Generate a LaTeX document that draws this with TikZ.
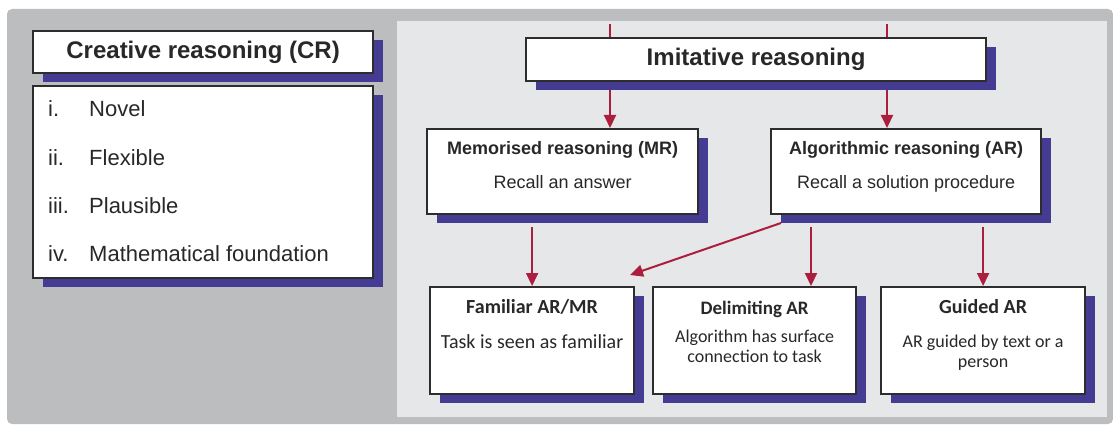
\documentclass[tikz,border=0pt]{standalone}
\usepackage{fontspec}
\setmainfont{Liberation Sans}
\newfontfamily\calfont{Carlito}
\usepackage{tikz}
\usetikzlibrary{arrows.meta, shadows, calc}
\definecolor{outergray}{RGB}{188, 189, 191}
\definecolor{panelgray}{RGB}{230, 231, 233}
\definecolor{shadowblue}{RGB}{67, 60, 146}
\definecolor{linkred}{RGB}{172, 30, 62}
\definecolor{boxline}{RGB}{45, 45, 45}
\definecolor{textgray}{RGB}{40, 40, 40}
\newcommand\bighead{\fontsize{24}{28}\selectfont\bfseries}
\newcommand\listsize{\fontsize{22}{26}\selectfont}
\newcommand\midhead{\fontsize{18}{21}\selectfont\bfseries}
\newcommand\midtext{\fontsize{18}{21}\selectfont}
\newcommand\lowhead{\calfont\fontsize{20}{24}\selectfont\bfseries}
\newcommand\lowtext{\calfont\fontsize{18}{21}\selectfont}
\tikzset{
  refbox/.style={draw=boxline, line width=2.2pt, fill=white, inner sep=0pt, anchor=north west, text=textgray,
    general shadow={shadow xshift=10pt, shadow yshift=-9pt, fill=shadowblue}},
  txt/.style={anchor=base, inner sep=0pt, text=textgray},
  feedline/.style={linkred, line width=2pt},
  redarrow/.style={-{Triangle[length=13pt, width=12pt]}, linkred, line width=2pt},
}

\begin{document}
\begin{tikzpicture}[x=1pt, y=-1pt]
  \useasboundingbox (0,0) rectangle (1113,425);
  \fill[outergray, rounded corners=5pt] (7,9) rectangle (1113,424);
  \fill[panelgray] (397,21) rectangle (1107,417);

  \node[refbox, minimum width=340pt, minimum height=42pt, font=\bighead] (cr) at (32,30) {Creative reasoning (CR)};
  \node[refbox, minimum width=340pt, minimum height=192pt] (list) at (32,85) {};
  \foreach \n/\t [count=\k] in {i./Novel, ii./Flexible, iii./Plausible, iv./Mathematical foundation} {
    \node[txt, anchor=base west, font=\listsize] (num\k) at (48, {69+48*\k}) {\n};
    \node[txt, anchor=base west, font=\listsize] (item\k) at (89, {69+48*\k}) {\t};
  }

  \node[refbox, minimum width=460pt, minimum height=43pt, font=\bighead] (imit) at (525,37) {Imitative reasoning};
  \node[refbox, minimum width=271pt, minimum height=85pt] (mr) at (426,128) {};
  \node[refbox, minimum width=270pt, minimum height=85pt] (ar) at (770,128) {};
  \node[txt, font=\midhead] (mrT) at ($(mr.north)+(0,26)$) {Memorised reasoning (MR)};
  \node[txt, font=\midtext] (mrD) at ($(mr.north)+(0,60)$) {Recall an answer};
  \node[txt, font=\midhead] (arT) at ($(ar.north)+(0,26)$) {Algorithmic reasoning (AR)};
  \node[txt, font=\midtext] (arD) at ($(ar.north)+(0,60)$) {Recall a solution procedure};

  \node[refbox, minimum width=204pt, minimum height=107pt] (fam) at (429,286) {};
  \node[refbox, minimum width=203pt, minimum height=107pt] (del) at (652,286) {};
  \node[refbox, minimum width=204pt, minimum height=107pt] (gui) at (880,286) {};
  \node[txt, font=\lowhead] (famT) at ($(fam.north)+(0,27)$) {Familiar AR/MR};
  \node[txt, font=\lowtext\fontsize{20}{24}\selectfont] (famD) at ($(fam.north)+(0,62)$) {Task is seen as familiar};
  \node[txt, font=\lowhead\fontsize{19}{23}\selectfont] (delT) at ($(del.north)+(0,28)$) {Delimiting AR};
  \node[txt, font=\lowtext] (delD1) at ($(del.north)+(0,56)$) {Algorithm has surface};
  \node[txt, font=\lowtext] (delD2) at ($(del.north)+(0,76)$) {connection to task};
  \node[txt, font=\lowhead] (guiT) at ($(gui.north)+(0,27)$) {Guided AR};
  \node[txt, font=\lowtext] (guiD1) at ($(gui.north)+(0,61)$) {AR guided by text or a};
  \node[txt, font=\lowtext] (guiD2) at ($(gui.north)+(0,81)$) {person};

  \coordinate (inL) at (610,24);
  \coordinate (inR) at (887,24);
  \coordinate (delX) at (811,0);
  \coordinate (diagS) at (781,223);
  \coordinate (diagE) at (630,275);
  \draw[feedline] (inL) -- (inL |- imit.north);
  \draw[feedline] (inR) -- (inR |- imit.north);
  \draw[redarrow, shorten <=8pt] (inL |- imit.south) -- (inL |- mr.north);
  \draw[redarrow, shorten <=8pt] (inR |- imit.south) -- (inR |- ar.north);
  \draw[redarrow, shorten <=12pt] (mr.south -| fam.north) -- (fam.north);
  \draw[redarrow, shorten <=12pt] (delX |- ar.south) -- (delX |- del.north);
  \draw[redarrow, shorten <=12pt] (ar.south -| gui.north) -- (gui.north);
  \draw[redarrow] (diagS) -- (diagE);
\end{tikzpicture}
\end{document}
